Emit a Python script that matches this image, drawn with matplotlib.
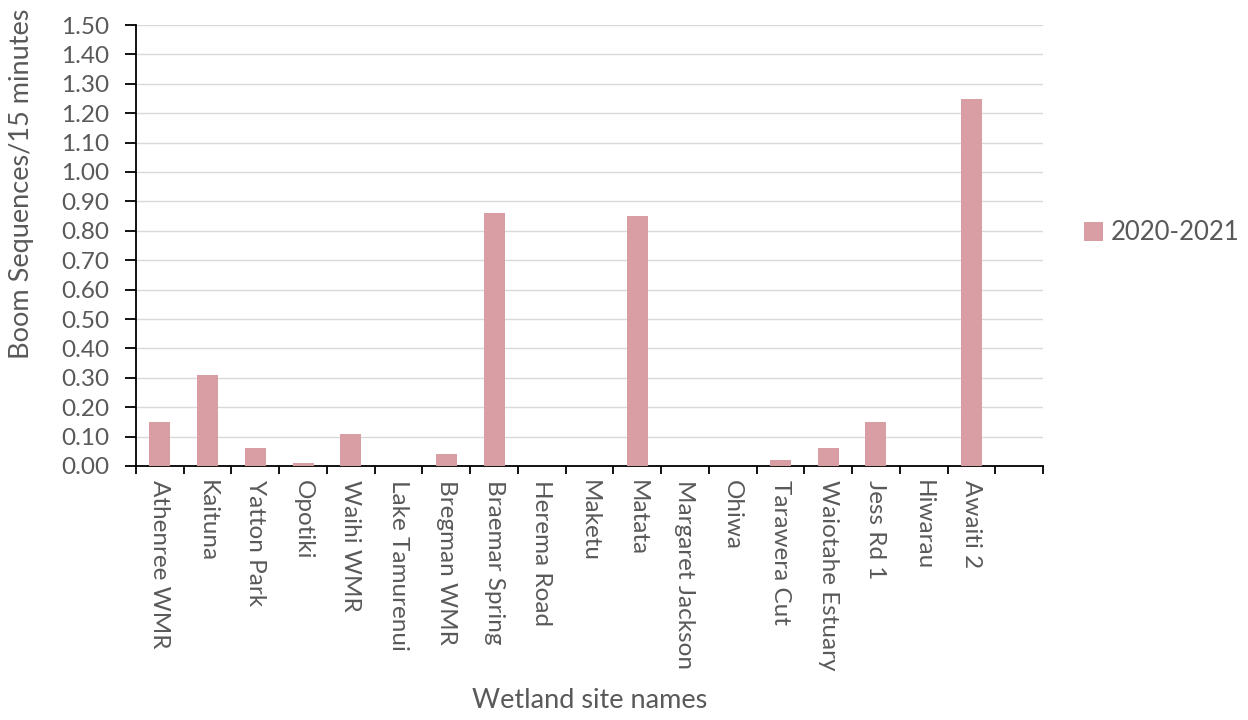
import matplotlib
matplotlib.use("Agg")
import matplotlib.pyplot as plt
import numpy as np

sites = ["Athenree WMR", "Kaituna", "Yatton Park", "Opotiki", "Waihi WMR",
         "Lake Tamurenui", "Bregman WMR", "Braemar Spring", "Herema Road",
         "Maketu", "Matata", "Margaret Jackson", "Ohiwa", "Tarawera Cut",
         "Waiotahe Estuary", "Jess Rd 1", "Hiwarau", "Awaiti 2", ""]
values = [0.15, 0.31, 0.06, 0.01, 0.11, 0.0, 0.04, 0.86, 0.0,
          0.0, 0.85, 0.0, 0.0, 0.02, 0.06, 0.15, 0.0, 1.25, 0.0]
series_name = "2020-2021"
yticks = [round(0.1 * i, 2) for i in range(16)]

plt.rcParams['font.family'] = ['Lato', 'DejaVu Sans']
txt = '#595959'

fig = plt.figure(figsize=(12.48, 7.2), dpi=100)
ax = fig.add_axes([136/1248, 1-466/720, (1043-136)/1248, (466-25)/720])

x = np.arange(len(sites))
ax.bar(x, values, width=0.44, color='#D99EA4', label=series_name, zorder=3)

ax.set_xlim(-0.5, len(sites) - 0.5)
ax.set_ylim(0, 1.5)
ax.set_yticks(yticks)
ax.set_yticklabels([f"{v:.2f}" for v in yticks], color=txt, fontsize=17.5)
ax.yaxis.grid(True, color='#d9d9d9', linewidth=1.0, zorder=0)
ax.set_axisbelow(True)

ax.set_xticks(x)
ax.set_xticklabels(sites, rotation=-90, color=txt, fontsize=17.5, va='top', ha='center')
ax.set_xticks(np.arange(len(sites) + 1) - 0.5, minor=True)
ax.tick_params(axis='x', which='major', length=0, pad=10)
ax.tick_params(axis='x', which='minor', length=6, width=1.3, color='black')
ax.tick_params(axis='y', length=8, width=1.3, color='black', pad=11)

for s in ['top', 'right']:
    ax.spines[s].set_visible(False)
for s in ['left', 'bottom']:
    ax.spines[s].set_linewidth(1.3)
    ax.spines[s].set_color('black')

fig.text(22/1248, 1-184/720, "Boom Sequences/15 minutes", color=txt, fontsize=19.5,
         ha='center', va='center', rotation=90)
fig.text(589.5/1248, 1-700/720, "Wetland site names", color=txt, fontsize=19.5,
         ha='center', va='center')

leg = ax.legend(loc='center left', bbox_to_anchor=(1076/1248, 1-233/720),
                bbox_transform=fig.transFigure, frameon=False, fontsize=18.5,
                handlelength=0.75, handleheight=0.75, handletextpad=0.3,
                borderpad=0.3, borderaxespad=0)
for t in leg.get_texts():
    t.set_color(txt)

fig.savefig("out.png", dpi=100)
